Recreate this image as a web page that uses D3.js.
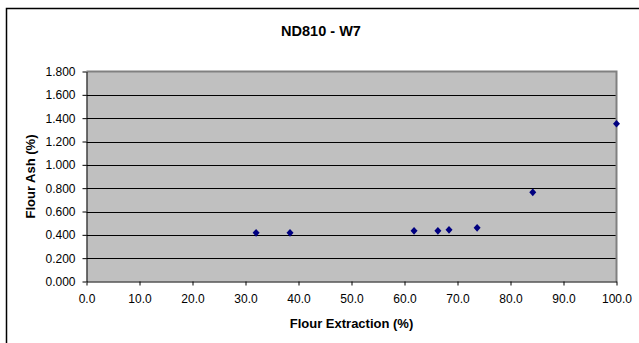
<!DOCTYPE html>
<html>
<head>
<meta charset="utf-8">
<script src="https://cdn.jsdelivr.net/npm/d3@7"></script>
<style>
  html, body { margin: 0; padding: 0; background: #fff; }
  svg { display: block; }
  text { font-family: "Liberation Sans", Arial, sans-serif; fill: #000; }
</style>
</head>
<body>
<script>
// Flour extraction (%) vs flour ash (%) for ND810 - W7
const extraction = [32.0, 38.4, 61.8, 66.3, 68.4, 73.7, 84.2, 100.0];
const ash = [0.417, 0.417, 0.434, 0.434, 0.443, 0.460, 0.764, 1.352];
const xTicks = [0, 10, 20, 30, 40, 50, 60, 70, 80, 90, 100];
const yTicks = [0, 0.2, 0.4, 0.6, 0.8, 1.0, 1.2, 1.4, 1.6, 1.8];

const W = 639, H = 343;
const plot = { left: 86.5, right: 616.5, top: 71.5, bottom: 281.5 };

const svg = d3.select("body").append("svg")
  .attr("width", W).attr("height", H);

// chart frame
svg.append("path")
  .attr("d", `M6.5,${H} V8.5 H${W}`)
  .attr("fill", "none").attr("stroke", "#000").attr("stroke-width", 1.5);

const x = d3.scaleLinear().domain([0, 100]).range([plot.left, plot.right]);
const y = d3.scaleLinear().domain([0, 1.8]).range([plot.bottom, plot.top]);

// plot area background
svg.append("rect")
  .attr("x", plot.left).attr("y", plot.top)
  .attr("width", plot.right - plot.left).attr("height", plot.bottom - plot.top)
  .attr("fill", "#c0c0c0");

// horizontal gridlines
svg.append("g").selectAll("line")
  .data(yTicks.filter(v => v > 0 && v < 1.8))
  .join("line")
  .attr("x1", plot.left).attr("x2", plot.right)
  .attr("y1", d => Math.round(y(d)) + 0.5).attr("y2", d => Math.round(y(d)) + 0.5)
  .attr("stroke", "#000").attr("stroke-width", 1);

// plot border top/right
svg.append("path")
  .attr("d", `M${plot.left},${plot.top} H${plot.right} V${plot.bottom}`)
  .attr("fill", "none").attr("stroke", "#808080").attr("stroke-width", 2);

// axes
const xAxis = d3.axisBottom(x).tickValues(xTicks).tickFormat(d3.format(".1f"))
  .tickSizeInner(4).tickSizeOuter(0).tickPadding(9);
const gx = svg.append("g").attr("transform", `translate(0,${plot.bottom})`).call(xAxis);

const yAxis = d3.axisLeft(y).tickValues(yTicks).tickFormat(d3.format(".3f"))
  .tickSizeInner(4).tickSizeOuter(0).tickPadding(7);
const gy = svg.append("g").attr("transform", `translate(${plot.left},0)`).call(yAxis);

[gx, gy].forEach(g => {
  g.select(".domain").attr("stroke", "#000");
  g.selectAll(".tick line").attr("stroke", "#000");
  g.selectAll(".tick text")
    .attr("font-family", "Liberation Sans, Arial, sans-serif")
    .attr("font-size", 12).attr("fill", "#000");
});

// diamond marker
const diamond = {
  draw(ctx, size) {
    const w = Math.sqrt(size) / 2, h = w * 1.1;
    ctx.moveTo(0, -h); ctx.lineTo(w, 0); ctx.lineTo(0, h); ctx.lineTo(-w, 0); ctx.closePath();
  }
};

// data points
svg.append("g").selectAll("path")
  .data(extraction.map((e, i) => [e, ash[i]]))
  .join("path")
  .attr("transform", d => `translate(${x(d[0])},${y(d[1])})`)
  .attr("d", d3.symbol(diamond, 49))
  .attr("fill", "#000080");

// titles
svg.append("text")
  .attr("x", 321).attr("y", 36)
  .attr("text-anchor", "middle")
  .attr("font-size", 14.5).attr("font-weight", "bold")
  .text("ND810 - W7");

svg.append("text")
  .attr("x", 351.5).attr("y", 328)
  .attr("text-anchor", "middle")
  .attr("font-size", 13).attr("font-weight", "bold")
  .text("Flour Extraction (%)");

svg.append("text")
  .attr("transform", `translate(35,${(plot.top + plot.bottom) / 2}) rotate(-90)`)
  .attr("text-anchor", "middle")
  .attr("font-size", 13).attr("font-weight", "bold")
  .text("Flour Ash (%)");
</script>
</body>
</html>
